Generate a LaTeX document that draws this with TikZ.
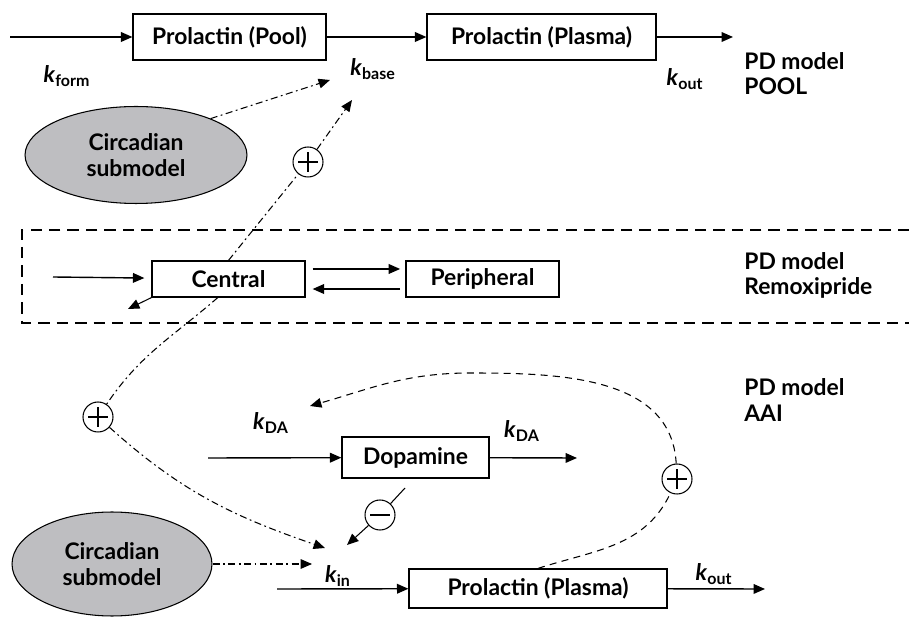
\documentclass[tikz,border=0pt]{standalone}
\usepackage{fontspec}
\setmainfont{Lato}
\usepackage{xcolor}
\usepackage{tikz}
\usetikzlibrary{arrows.meta,positioning,shapes.geometric}
\definecolor{circgray}{RGB}{190,190,193}
\newcommand{\rate}[1]{\textit{k}\textsubscript{#1}}
\newcommand{\labfont}{\fontsize{13}{14.5}\selectfont\bfseries}
\tikzset{
  comp box/.style   = {draw, line width=0.7pt, fill=white, font=\labfont,
                        inner sep=2pt, },
  circ node/.style  = {draw, ellipse, fill=circgray, line width=0.6pt,
                        font=\labfont, align=center, inner sep=0pt},
  sign node/.style  = {draw, circle, minimum size=0.6cm, inner sep=0pt,
                        fill=white, line width=0.6pt},
  plus node/.style  = {sign node, path picture={
      \draw[line width=0.6pt] ([xshift=3pt]path picture bounding box.west)
        -- ([xshift=-3pt]path picture bounding box.east)
        ([yshift=-3pt]path picture bounding box.north)
        -- ([yshift=3pt]path picture bounding box.south);}},
  minus node/.style = {sign node, path picture={
      \draw[line width=0.6pt] ([xshift=3pt]path picture bounding box.west)
        -- ([xshift=-3pt]path picture bounding box.east);}},
  rate label/.style = {font=\labfont, inner sep=0pt},
  model label/.style= {font=\labfont, align=left, anchor=west, inner sep=0pt},
  arr/.style        = {-{Triangle[length=6.5pt,width=5.5pt]}, line width=0.8pt},
  dd arr/.style     = {-{Triangle[length=6.5pt,width=5.5pt]}, line width=0.6pt,
                        dash pattern=on 4pt off 2pt on 1pt off 2pt},
  dd line/.style    = {line width=0.6pt, dash pattern=on 4pt off 2pt on 1pt off 2pt},
  fb arr/.style     = {-{Triangle[length=6.5pt,width=5.5pt]}, line width=0.6pt,
                        dash pattern=on 4pt off 3pt},
  fb line/.style    = {line width=0.6pt, dash pattern=on 4pt off 3pt},
}

\begin{document}
\begin{tikzpicture}[x=0.02cm, y=-0.02cm]
  \useasboundingbox (0,0) rectangle (909,617);

  % PD model POOL
  \node[comp box, minimum width=3.86cm, minimum height=0.92cm] (pool)   at (229.5,37) {Prolactin (Pool)};
  \node[comp box, minimum width=4.58cm, minimum height=0.92cm] (plasA)  at (541.5,37) {Prolactin (Plasma)};
  \node[circ node, minimum width=4.44cm, minimum height=1.94cm] (circA) at (136,155) {Circadian\\submodel};
  \node[plus node] (plusA) at (308,162) {};
  \coordinate (inA)   at (10,37);
  \coordinate (outA)  at (733,37);
  \coordinate (tipA)  at (330,80);
  \coordinate (tipB)  at (352,100);

  \draw[arr] (inA) -- (pool);
  \draw[arr] (pool) -- (plasA);
  \draw[arr] (plasA) -- (outA);
  \draw[dd arr] (circA.26) -- (tipA);

  \node[rate label] (kform) at (67,76)  {\rate{form}};
  \node[rate label] (kbase) at (373,69) {\rate{base}};
  \node[rate label] (koutA) at (685,79) {\rate{out}};
  \node[model label] (mpool) at (744,73.5) {PD model\\POOL};

  % PD model Remoxipride
  \draw[dash pattern=on 6.5pt off 4pt, line width=0.7pt] (909,230) -| (22,323) -- (909,323);
  \node[comp box, minimum width=3.06cm, minimum height=0.72cm] (central) at (228.5,279) {Central};
  \node[comp box, minimum width=3.06cm, minimum height=0.72cm] (periph)  at (482.5,279) {Peripheral};
  \coordinate (inC)  at (53,277);
  \coordinate (elim) at (128,309);

  \draw[arr, shorten >=4pt] (inC) -- (central);
  \draw[arr, shorten <=4pt, shorten >=3pt] ([yshift=5.7pt]central.east) -- ([yshift=5.7pt]periph.west);
  \draw[arr, shorten <=3pt, shorten >=4pt] ([yshift=-5.7pt]periph.west) -- ([yshift=-5.7pt]central.east);
  \draw[arr, line width=0.6pt] (central.south west) -- (elim);
  \node[model label] (mremox) at (744,275.5) {PD model\\Remoxipride};

  % drug effect on kbase and kin
  \node[plus node] (plusB) at (98,417) {};
  \draw[dd line] (central.north) -- (plusA);
  \draw[dd arr] (plusA) -- (tipB);
  \draw[dd line] (central.240) to[out=221, in=56] (plusB);

  % PD model AAI
  \node[comp box, minimum width=2.94cm, minimum height=0.82cm] (dopa)  at (415.5,457.5) {Dopamine};
  \node[comp box, minimum width=5.16cm, minimum height=0.78cm] (plasB) at (538,588.5) {Prolactin (Plasma)};
  \node[circ node, minimum width=4.0cm, minimum height=2.08cm] (circB) at (112,564) {Circadian\\submodel};
  \node[minus node] (minus) at (380,515) {};
  \node[plus node]  (plusC) at (677,479) {};
  \coordinate (inD)    at (208,458);
  \coordinate (outD)   at (577,458);
  \coordinate (mstart) at (405,488);
  \coordinate (tipC)   at (325,548);
  \coordinate (tipD)   at (312,564);
  \coordinate (tipE)   at (347,545);
  \coordinate (tipF)   at (310,406);
  \coordinate (peak)   at (470,373);
  \coordinate (inB)    at (277,589);
  \coordinate (outB)   at (765,589);

  \draw[arr] (inD) -- (dopa);
  \draw[arr] (dopa) -- (outD);
  \draw[line width=0.6pt] (mstart) -- (minus);
  \draw[arr, line width=0.6pt] (minus) -- (tipE);
  \draw[dd arr] (plusB) to[out=-42, in=161] (tipC);
  \draw[dd arr] (circB.east) -- (tipD);
  \draw[arr] (inB) -- (plasB);
  \draw[arr] (plasB) -- (outB);
  \draw[fb line] (plasB.north) to[out=18, in=245] (plusC);
  \draw[fb arr] (plusC) to[out=93, in=0] (peak) to[out=180, in=16] (tipF);

  \node[rate label] (kdaA)  at (271,423) {\rate{DA}};
  \node[rate label] (kdaB)  at (522,431) {\rate{DA}};
  \node[rate label] (kin)   at (338,576) {\rate{in}};
  \node[rate label] (koutB) at (714,574) {\rate{out}};
  \node[model label] (maai) at (744,400) {PD model\\AAI};
\end{tikzpicture}
\end{document}
